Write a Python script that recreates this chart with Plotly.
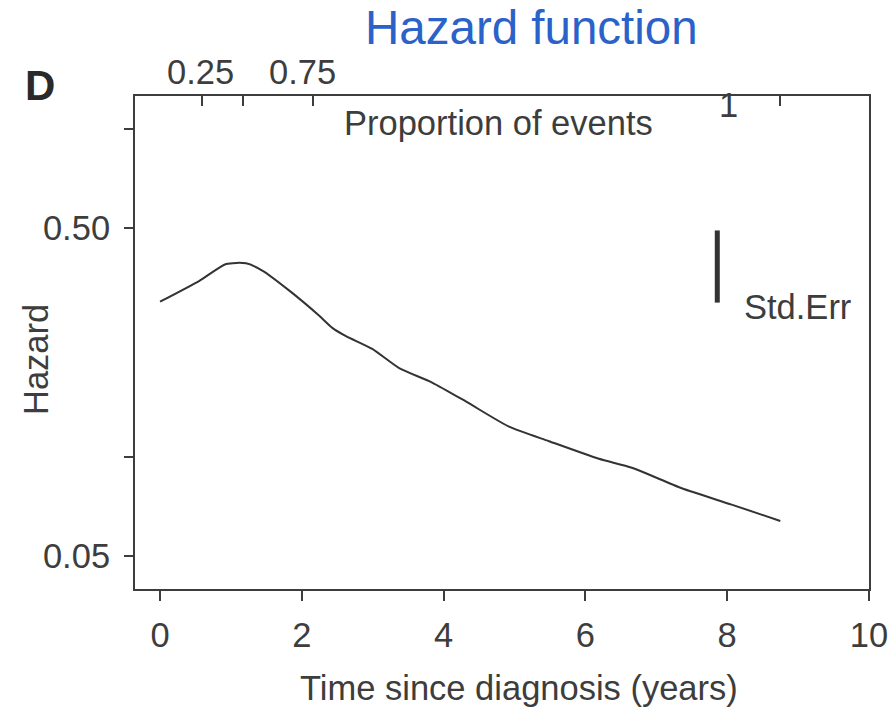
import plotly.graph_objects as go

# Smoothed hazard estimate over time since diagnosis
time_years = [0.0, 0.556, 0.932, 1.214, 1.448, 1.824, 2.246, 2.430, 2.623, 2.993,
              3.373, 3.838, 4.313, 4.923, 5.486, 6.190, 6.655, 7.359, 8.063, 8.749]
hazard = [0.298, 0.345, 0.388, 0.390, 0.370, 0.322, 0.270, 0.248, 0.234, 0.214,
          0.187, 0.169, 0.148, 0.124, 0.112, 0.099, 0.093, 0.0805, 0.0718, 0.064]

# Reference bar for the standard error
se_x = [7.86, 7.86]
se_y = [0.296, 0.491]

# Bottom axis
x_ticks = [0, 2, 4, 6, 8, 10]

# Left axis (log scale)
y_ticks = [0.05, 0.1, 0.5, 1.0]
y_ticktext = ["0.05", "", "0.50", ""]

# Top axis: times at which cumulative proportion of events is reached
prop_tick_times = [0.588, 1.166, 2.162, 8.025, 8.745]
prop_labels = ["0.25", "0.75", "1"]
prop_label_times = [0.564, 2.016, 8.025]

ink = "#3d3d3d"
font_family = "Liberation Sans, Arial, sans-serif"
fs = 34.5

fig = go.Figure()
fig.add_trace(go.Scatter(x=time_years, y=hazard, mode="lines",
                         line=dict(color="#333333", width=2, shape="spline", smoothing=0.6),
                         showlegend=False, hoverinfo="skip"))
fig.add_trace(go.Scatter(x=se_x, y=se_y, mode="lines",
                         line=dict(color="#333333", width=5),
                         showlegend=False, hoverinfo="skip"))
# invisible trace to attach the top axis
fig.add_trace(go.Scatter(x=[0, 10], y=[0.1, 0.1], xaxis="x2", mode="lines",
                         line=dict(width=0), showlegend=False, hoverinfo="skip"))

xr = [-0.353, 10.0]
fig.update_layout(
    width=891, height=709,
    margin=dict(l=135, r=22, t=96, b=120, autoexpand=False),
    paper_bgcolor="white", plot_bgcolor="white",
    font=dict(family=font_family, size=fs, color=ink),
    xaxis=dict(range=xr, tickvals=x_ticks, ticks="outside", ticklen=10, tickwidth=2,
               tickcolor=ink, showline=True, linecolor=ink, linewidth=2, mirror=True,
               showgrid=False, zeroline=False, ticklabelstandoff=5, automargin=False,
               tickfont=dict(size=fs, color=ink)),
    xaxis2=dict(range=xr, overlaying="x", side="top", tickvals=prop_tick_times,
                ticks="inside", ticklen=10, tickwidth=2, tickcolor=ink, automargin=False,
                showticklabels=False, showline=False, showgrid=False, zeroline=False),
    yaxis=dict(type="log", range=[-1.401, 0.1006], tickvals=y_ticks, ticktext=y_ticktext,
               ticks="outside", ticklen=9, tickwidth=2, tickcolor=ink, automargin=False,
               showline=True, linecolor=ink, linewidth=2, mirror=True,
               showgrid=False, zeroline=False, ticklabelstandoff=7,
               tickfont=dict(size=fs, color=ink)),
)

def px_to_paper_y(py):
    return (589 - py) / 493

# top-axis labels
for lab, t, py in zip(prop_labels, prop_label_times, [72, 72, 105]):
    fig.add_annotation(x=t, y=px_to_paper_y(py), xref="x", yref="paper", text=lab,
                       showarrow=False, xanchor="center", yanchor="middle",
                       font=dict(size=fs, color=ink))

fig.add_annotation(x=(498 - 135) / 734, y=px_to_paper_y(123), xref="paper", yref="paper",
                   text="Proportion of events", showarrow=False,
                   xanchor="center", yanchor="middle", font=dict(size=fs, color=ink))
fig.add_annotation(x=8.21, y=px_to_paper_y(307), xref="x", yref="paper",
                   text="Std.Err", showarrow=False, xanchor="left", yanchor="middle",
                   font=dict(size=fs, color=ink))
fig.add_annotation(x=(531 - 135) / 734, y=px_to_paper_y(28), xref="paper", yref="paper",
                   text="Hazard function", showarrow=False, xanchor="center",
                   yanchor="middle", font=dict(size=47.5, color="#2b62c9"))
fig.add_annotation(x=(40 - 135) / 734, y=px_to_paper_y(86), xref="paper", yref="paper",
                   text="<b>D</b>", showarrow=False, xanchor="center", yanchor="middle",
                   font=dict(size=42, color="#2a2a2a"))
fig.add_annotation(x=(36 - 135) / 734, y=px_to_paper_y(360), xref="paper", yref="paper",
                   text="Hazard", textangle=-90, showarrow=False, xanchor="center",
                   yanchor="middle", font=dict(size=fs, color=ink))
fig.add_annotation(x=(519 - 135) / 734, y=px_to_paper_y(688), xref="paper", yref="paper",
                   text="Time since diagnosis (years)", showarrow=False, xanchor="center",
                   yanchor="middle", font=dict(size=fs, color=ink))

fig.write_html("out.html")
